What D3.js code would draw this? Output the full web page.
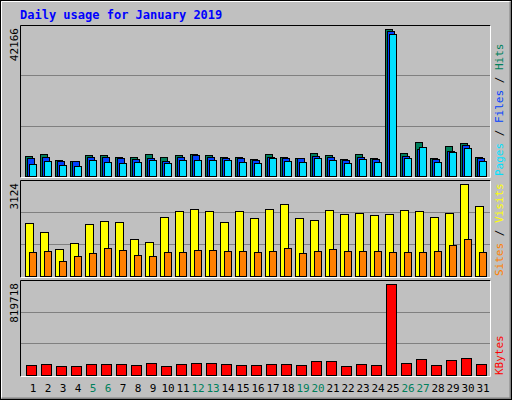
<!DOCTYPE html>
<html><head><meta charset="utf-8">
<script src="https://cdn.jsdelivr.net/npm/d3@7"></script>
<style>body{margin:0;background:#fff}svg{display:block}text{font-family:"DejaVu Sans Mono",monospace}</style>
</head><body>
<script>
const days = d3.range(1, 32);
const weekend = [5, 6, 12, 13, 19, 20, 26, 27];
const hits = [5629,6392,4675,4388,5915,5915,5533,5533,6201,5533,5915,6392,5915,5533,5533,4961,6392,5533,5247,6678,5915,4961,6392,5247,42166,6678,9826,5247,8491,9540,5533];
const files = [5247,5533,4388,4388,5533,5533,5247,4961,5247,4388,5533,6106,5533,5247,5247,4675,5533,5247,5247,5819,5533,4675,5533,4961,41499,5819,7823,4961,7250,8968,5247];
const pages = [3530,4388,3244,2957,4675,4102,3816,4102,4675,3816,4675,4675,4675,4675,4102,3816,5247,4388,4102,5247,4675,3816,4961,4102,40736,5247,8395,4102,6964,8109,4388];
const visits = [1805,1500,925,1128,1771,1872,1838,1263,1162,2008,2211,2278,2211,1838,2211,1974,2278,2448,1974,1906,2245,2109,2143,2076,2109,2245,2211,2008,2143,3124,2380];
const sites = [823,857,519,688,790,959,891,722,688,823,823,891,891,857,857,823,857,959,790,857,925,857,857,857,823,823,823,857,1060,1263,823];
const kbytes = [92743,101718,83768,83768,101718,101718,101718,92743,110693,83768,101718,110693,110693,101718,92743,92743,101718,101718,92743,128643,128643,83768,101718,92743,819718,110693,146593,92743,137618,155568,101718];

const W = 512, H = 400;
const svg = d3.select("body").append("svg").attr("width", W).attr("height", H);
svg.append("rect").attr("width", W).attr("height", H).attr("fill", "#c0c0c0");
// bevel
svg.append("path").attr("d", "M1.5,398.5V1.5H510.5").attr("stroke", "#fff").attr("fill", "none");
svg.append("path").attr("d", "M1.5,398.5H510.5V1.5").attr("stroke", "#808080").attr("stroke-width", 2).attr("fill", "none");
svg.append("rect").attr("x", 0.5).attr("y", 0.5).attr("width", W - 1).attr("height", H - 1).attr("fill", "none").attr("stroke", "#000");

svg.append("text").attr("x", 20).attr("y", 19).attr("fill", "#0000ff")
    .style("font-size", "12px").style("font-weight", "bold").text("Daily usage for January 2019");

const x = d3.scaleBand().domain(days).range([22.5, 487.5]);

function panel(top, bottom, max, label, series, legend) {
    const y = d3.scaleLinear().domain([0, max]).range([bottom, top + 4]);
    const g = svg.append("g");
    g.append("rect").attr("x", 20.5).attr("y", top + 0.5).attr("width", 470).attr("height", bottom - top + 1).attr("fill", "#c0c0c0");
    const span = bottom - top;
    [1, 2].forEach(k => g.append("line").attr("x1", 21).attr("x2", 490)
        .attr("y1", Math.round(bottom - span * k / 3) + 0.5).attr("y2", Math.round(bottom - span * k / 3) + 0.5)
        .attr("stroke", "#808080"));
    g.append("path").attr("d", `M20.5,${bottom + 1.5}V${top + 0.5}H490.5`).attr("stroke", "#000").attr("fill", "none");
    g.append("path").attr("d", `M20.5,${bottom + 1.5}H490.5V${top + 0.5}`).attr("stroke", "#fff").attr("fill", "none");
    series.forEach(s => {
        g.selectAll(null).data(s.values).join("rect")
            .attr("x", (d, i) => x(days[i]) + s.off + 0.5)
            .attr("y", d => Math.round(y(d)) + 0.5)
            .attr("width", s.w)
            .attr("height", d => bottom - Math.round(y(d)))
            .attr("fill", s.color).attr("stroke", "#000");
    });
    svg.append("text").attr("transform", `translate(18,${top + 3}) rotate(-90)`)
        .attr("text-anchor", "end").style("font-size", "11px").attr("fill", "#000").text(label);
    const t = svg.append("text").attr("transform", `translate(503,${bottom}) rotate(-90)`)
        .style("font-size", "11px");
    legend.forEach((l, i) => {
        if (i) t.append("tspan").attr("fill", "#000").text(" / ");
        t.append("tspan").attr("fill", l[1]).text(l[0]);
    });
}

panel(25, 176, 42166, "42166", [
    { values: hits, color: "#00805c", off: 2.5, w: 7 },
    { values: files, color: "#0040ff", off: 4.5, w: 7 },
    { values: pages, color: "#00e0ff", off: 6.5, w: 7 }
], [["Pages", "#00e0ff"], ["Files", "#0040ff"], ["Hits", "#00805c"]]);

panel(180, 276, 3124, "3124", [
    { values: visits, color: "#ffff00", off: 2.5, w: 8 },
    { values: sites, color: "#ff8000", off: 6.5, w: 7 }
], [["Sites", "#ff8000"], ["Visits", "#ffff00"]]);

panel(280, 375, 819718, "819718", [
    { values: kbytes, color: "#ff0000", off: 3.5, w: 10 }
], [["KBytes", "#ff0000"]]);

svg.append("g").selectAll("text").data(days).join("text")
    .attr("x", d => x(d) + 10.5).attr("y", 392).attr("text-anchor", "middle")
    .style("font-size", "11px")
    .attr("fill", d => weekend.includes(d) ? "#00805c" : "#000").text(d => d);
</script>
</body></html>
